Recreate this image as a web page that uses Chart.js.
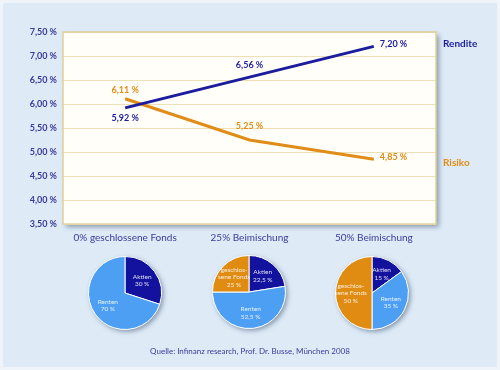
<!DOCTYPE html>
<html>
<head>
<meta charset="utf-8">
<script src="https://cdn.jsdelivr.net/npm/chart.js@4/dist/chart.umd.min.js"></script>
<style>
    html, body { margin: 0; padding: 0; background: #eef4fa; }
    .panel { position: absolute; left: 3px; top: 3px; width: 494px; height: 364px; background: #deebf7; }
    #lineChart { position: absolute; left: 0; top: 0; }
    .pie { position: absolute; width: 90px; height: 90px; }
    .source { position: absolute; left: 0; width: 500px; top: 346px; text-align: center;
              font: 8px Lato, sans-serif; color: #3a3a9a; }
</style>
</head>
<body>
<div class="panel"></div>
<canvas id="lineChart" width="500" height="370"></canvas>
<canvas id="pie0" class="pie" width="90" height="90" style="left:80px; top:248px"></canvas>
<canvas id="pie1" class="pie" width="90" height="90" style="left:204px; top:247px"></canvas>
<canvas id="pie2" class="pie" width="90" height="90" style="left:327px; top:248px"></canvas>
<div class="source">Quelle: Infinanz research, Prof. Dr. Busse, München 2008</div>
<script>
// --- data ---
const categories = ['0% geschlossene Fonds', '25% Beimischung', '50% Beimischung'];
const rendite = [5.92, 6.56, 7.20];
const risiko  = [6.11, 5.25, 4.85];
const yTicks  = [3.5, 4.0, 4.5, 5.0, 5.5, 6.0, 6.5, 7.0, 7.5];

const pieLabels = ['Aktien', 'Renten', 'geschlos-\nsene Fonds'];
const pie0 = [30, 70, 0];
const pie1 = [22.5, 52.5, 25];
const pie2 = [15, 35, 50];

const clr = {
    rendite: '#1c1c9e',
    risiko:  '#e08c16',
    axisTxt: '#3a3a9a',
    grid:    '#ede0b4',
    border:  '#e2cf9c',
    aktien:  '#12129e',
    renten:  '#4d9ff3',
    fonds:   '#e08c12'
};

const pct = v => v.toFixed(2).replace('.', ',') + ' %';
const pctShort = v => String(v).replace('.', ',') + ' %';

// shadow + border behind plot area
const plotFrame = {
    id: 'plotFrame',
    beforeDraw(chart) {
        const { ctx, chartArea: a } = chart;
        ctx.save();
        ctx.shadowColor = 'rgba(40,60,90,0.45)';
        ctx.shadowBlur = 5;
        ctx.shadowOffsetX = 3;
        ctx.shadowOffsetY = 3;
        ctx.fillStyle = '#fffef8';
        ctx.fillRect(a.left, a.top, a.right - a.left, a.bottom - a.top);
        ctx.restore();
    },
    afterDraw(chart) {
        const { ctx, chartArea: a } = chart;
        ctx.save();
        ctx.strokeStyle = clr.border;
        ctx.lineWidth = 1.5;
        ctx.strokeRect(a.left, a.top, a.right - a.left, a.bottom - a.top);
        ctx.restore();
    }
};

// value labels and series names
const valueLabels = {
    id: 'valueLabels',
    afterDatasetsDraw(chart) {
        const ctx = chart.ctx;
        ctx.save();
        ctx.textBaseline = 'middle';
        chart.data.datasets.forEach((ds, di) => {
            const pts = chart.getDatasetMeta(di).data;
            ctx.fillStyle = ds.borderColor;
            ctx.font = 'bold 9px Lato, sans-serif';
            pts.forEach((p, i) => {
                const last = i === pts.length - 1;
                const txt = pct(ds.data[i]);
                if (last) {
                    ctx.textAlign = 'left';
                    ctx.fillText(txt, p.x + 6, p.y - 2);
                } else {
                    ctx.textAlign = 'center';
                    ctx.fillText(txt, p.x, p.y + ds.labelOffset[i]);
                }
            });
            const end = pts[pts.length - 1];
            ctx.textAlign = 'left';
            ctx.font = 'bold 10px Lato, sans-serif';
            ctx.fillText(ds.label, chart.chartArea.right + 7, end.y + ds.nameOffset);
        });
        ctx.restore();
    }
};

new Chart(document.getElementById('lineChart'), {
    type: 'line',
    data: {
        labels: categories,
        datasets: [
            { label: 'Rendite', data: rendite, borderColor: clr.rendite, borderWidth: 3,
              pointRadius: 0, tension: 0, labelOffset: [10, -12], nameOffset: -3 },
            { label: 'Risiko', data: risiko, borderColor: clr.risiko, borderWidth: 3,
              pointRadius: 0, tension: 0, labelOffset: [-9, -14], nameOffset: 4 }
        ]
    },
    options: {
        responsive: false,
        animation: false,
        layout: { padding: { top: 32, right: 64, left: 0, bottom: 0 } },
        plugins: { legend: { display: false }, tooltip: { enabled: false } },
        scales: {
            y: {
                min: 3.5, max: 7.5,
                afterFit: s => { s.width = 63; },
                afterBuildTicks: s => { s.ticks = yTicks.map(v => ({ value: v })); },
                border: { display: false },
                grid: { color: clr.grid, lineWidth: 1, drawTicks: false },
                ticks: { padding: 6, color: clr.axisTxt, font: { family: 'Lato', size: 9, weight: 'bold' },
                         callback: v => pct(v) }
            },
            x: {
                offset: true,
                afterFit: s => { s.height = 146; },
                border: { display: false },
                grid: { display: false, drawTicks: false },
                ticks: { padding: 8, color: clr.axisTxt, font: { family: 'Lato', size: 10 } }
            }
        }
    },
    plugins: [plotFrame, valueLabels]
});

// --- pies ---
const pieShadow = {
    id: 'pieShadow',
    beforeDatasetsDraw(chart) {
        const arc = chart.getDatasetMeta(0).data[0];
        const ctx = chart.ctx;
        ctx.save();
        ctx.shadowColor = 'rgba(40,60,90,0.5)';
        ctx.shadowBlur = 5;
        ctx.shadowOffsetX = 2;
        ctx.shadowOffsetY = 2;
        ctx.fillStyle = '#c8d8ea';
        ctx.beginPath();
        ctx.arc(arc.x, arc.y, arc.outerRadius, 0, Math.PI * 2);
        ctx.fill();
        ctx.restore();
    }
};

const pieText = {
    id: 'pieText',
    afterDatasetsDraw(chart) {
        const ctx = chart.ctx;
        const ds = chart.data.datasets[0];
        ctx.save();
        ctx.font = '6.5px Lato, sans-serif';
        ctx.fillStyle = 'rgba(255,255,255,0.85)';
        ctx.textAlign = 'center';
        ctx.textBaseline = 'middle';
        chart.getDatasetMeta(0).data.forEach((arc, i) => {
            if (!ds.data[i]) return;
            const mid = (arc.startAngle + arc.endAngle) / 2;
            const r = arc.outerRadius * 0.58;
            const x = arc.x + Math.cos(mid) * r;
            const y = arc.y + Math.sin(mid) * r;
            const lines = chart.data.labels[i].split('\n').concat(pctShort(ds.data[i]));
            const h = 7.5;
            lines.forEach((t, k) => ctx.fillText(t, x, y + (k - (lines.length - 1) / 2) * h));
        });
        ctx.restore();
    }
};

[pie0, pie1, pie2].forEach((vals, n) => {
    new Chart(document.getElementById('pie' + n), {
        type: 'pie',
        data: {
            labels: pieLabels,
            datasets: [{
                data: vals,
                backgroundColor: [clr.aktien, clr.renten, clr.fonds],
                borderColor: '#ffffff',
                borderWidth: 1
            }]
        },
        options: {
            responsive: false,
            animation: false,
            layout: { padding: 8 },
            plugins: { legend: { display: false }, tooltip: { enabled: false } }
        },
        plugins: [pieShadow, pieText]
    });
});
</script>
</body>
</html>
